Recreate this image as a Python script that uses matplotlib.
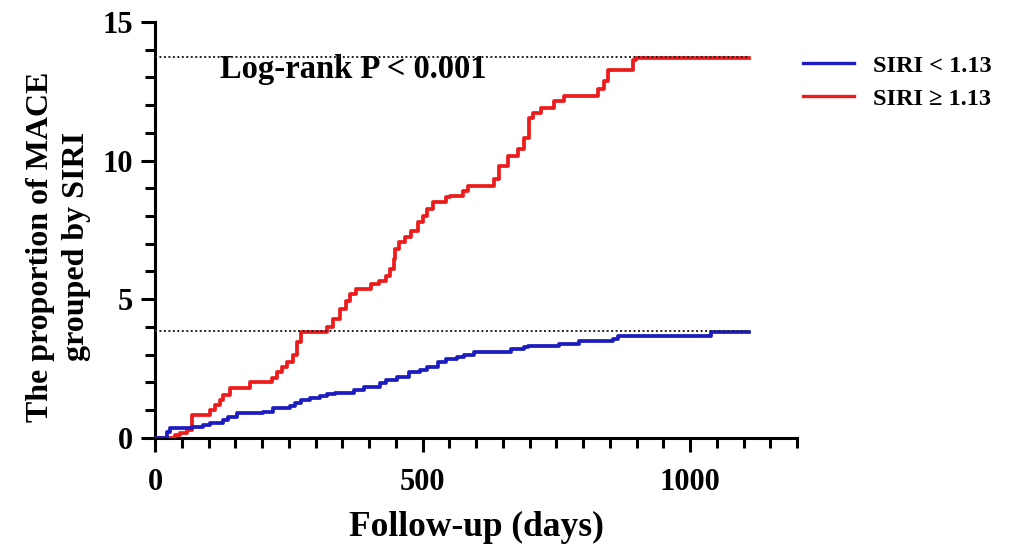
import numpy as np
import matplotlib.pyplot as plt
from matplotlib.ticker import MultipleLocator

# step curves: (day, cumulative proportion %)
red_days = [0, 32, 37, 47, 60, 69, 103, 112, 122, 127, 140, 178, 219, 228, 238, 247,
            258, 266, 272, 322, 333, 346, 356, 365, 375, 403, 418, 431, 440, 446, 449,
            455, 468, 478, 491, 500, 509, 519, 543, 552, 575, 584, 633, 642, 659, 678,
            689, 699, 706, 721, 745, 764, 828, 839, 846, 893, 899, 1110]
red_vals = [0, 0, 0.1, 0.18, 0.29, 0.83, 1.0, 1.2, 1.38, 1.56, 1.81, 2.0, 2.17, 2.36, 2.57, 2.75,
            3.0, 3.44, 3.8, 4.0, 4.28, 4.64, 4.93, 5.18, 5.36, 5.54, 5.65, 5.83, 6.09, 6.45, 6.81,
            7.07, 7.25, 7.46, 7.79, 8.0, 8.26, 8.51, 8.7, 8.73, 8.9, 9.1, 9.35, 9.82, 10.18, 10.43,
            10.8, 11.52, 11.7, 11.88, 12.14, 12.32, 12.6, 12.86, 13.26, 13.62, 13.7, 13.7]

blue_days = [0, 22, 28, 69, 90, 103, 127, 137, 153, 202, 221, 253, 262, 272, 290, 309, 322,
             337, 371, 390, 421, 431, 453, 474, 496, 509, 528, 543, 565, 577, 596, 665, 689,
             697, 755, 792, 856, 865, 1039, 1110]
blue_vals = [0, 0.22, 0.36, 0.4, 0.47, 0.54, 0.65, 0.76, 0.9, 0.94, 1.09, 1.13, 1.27, 1.38, 1.45, 1.5, 1.58,
             1.63, 1.74, 1.85, 1.99, 2.1, 2.21, 2.36, 2.46, 2.57, 2.72, 2.83, 2.9, 2.97, 3.08, 3.19, 3.26,
             3.3, 3.4, 3.48, 3.55, 3.66, 3.8, 3.8]

ref_levels = [13.75, 3.86]
ref_end = 1110

labels = ['SIRI < 1.13', 'SIRI \u2265 1.13']
red_c = '#ec1c1c'
blue_c = '#1c1cc0'

plt.rcParams['font.family'] = ['Liberation Serif', 'DejaVu Serif']
plt.rcParams['font.weight'] = 'bold'

fig = plt.figure(figsize=(10.14, 5.5), dpi=100)
ax = fig.add_axes([0.153, 0.204, 0.633, 0.756])

ax.step(red_days, red_vals, where='post', color=red_c, lw=2.7, label=labels[1], zorder=3)
ax.step(blue_days, blue_vals, where='post', color=blue_c, lw=2.7, label=labels[0], zorder=4)
for lv in ref_levels:
    ax.plot([0, ref_end], [lv, lv], color='#222222', lw=1.4, ls=(0, (1, 1.3)), zorder=5)

ax.text(122, 13.3, 'Log-rank P < 0.001', fontsize=23.5, fontweight='bold', va='center', ha='left')

ax.set_xlim(0, 1200)
ax.set_ylim(0, 15)
ax.xaxis.set_major_locator(MultipleLocator(500))
ax.xaxis.set_minor_locator(MultipleLocator(50))
ax.yaxis.set_major_locator(MultipleLocator(5))
ax.yaxis.set_minor_locator(MultipleLocator(1))
ax.tick_params(which='major', length=10, width=2.2, labelsize=22, pad=6)
ax.tick_params(which='minor', length=7, width=2.2)
ax.tick_params(axis='x', pad=12)
for side in ['top', 'right']:
    ax.spines[side].set_visible(False)
for side in ['left', 'bottom']:
    ax.spines[side].set_linewidth(2.2)

ax.set_xlabel('Follow-up (days)', fontsize=25.5, fontweight='bold', labelpad=10)
ax.set_ylabel('The proportion of MACE\ngrouped by SIRI', fontsize=23, fontweight='bold',
              linespacing=1.3)
ax.yaxis.set_label_coords(-0.1, 0.46)

h, l = ax.get_legend_handles_labels()
leg = fig.legend(h[::-1], l[::-1], loc='upper left', bbox_to_anchor=(0.77, 0.94),
                 frameon=False, fontsize=17.5, handlelength=2.1, handletextpad=0.8,
                 labelspacing=0.45)
for line in leg.get_lines():
    line.set_linewidth(2.4)

fig.savefig('out.png', dpi=100)
